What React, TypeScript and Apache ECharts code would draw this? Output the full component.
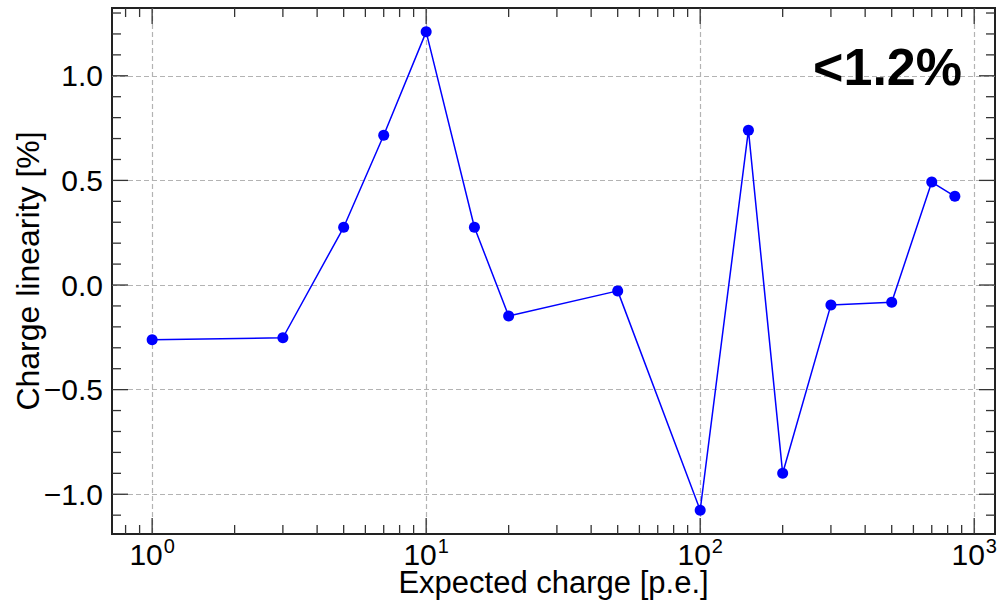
import React, { useEffect, useRef } from "react";
import * as echarts from "echarts";

const expectedCharge = [1, 3, 5, 7, 10, 15, 20, 50, 100, 150, 200, 300, 500, 700, 850];
const chargeLinearity = [-0.262, -0.252, 0.276, 0.716, 1.21, 0.276, -0.148, -0.028, -1.076, 0.74, -0.9, -0.095, -0.082, 0.492, 0.424];

const xMajorTicks = [1, 10, 100, 1000];
const xMinorTicks = [0.8, 0.9, 2, 3, 4, 5, 6, 7, 8, 9, 20, 30, 40, 50, 60, 70, 80, 90, 200, 300, 400, 500, 600, 700, 800, 900];
const yMajorTicks = [-1.0, -0.5, 0.0, 0.5, 1.0];
const yMinorTicks = [-1.1, -0.9, -0.8, -0.7, -0.6, -0.4, -0.3, -0.2, -0.1, 0.1, 0.2, 0.3, 0.4, 0.6, 0.7, 0.8, 0.9, 1.1, 1.2, 1.3];

const X_MIN = Math.pow(10, -0.1465);
const X_MAX = Math.pow(10, 3.0759);
const Y_MIN = -1.19;
const Y_MAX = 1.324;

const FONT = "'Liberation Sans', Arial, Helvetica, sans-serif";

export default function App() {
  const ref = useRef<HTMLDivElement>(null);
  useEffect(() => {
    if (!ref.current) return;
    const chart = echarts.init(ref.current, undefined, { renderer: "svg" });
    const tickData: number[][] = [];
    xMajorTicks.forEach((v) => tickData.push([v, 0, 0, 16]));
    xMinorTicks.forEach((v) => tickData.push([v, 0, 0, 9]));
    yMajorTicks.forEach((v) => tickData.push([1, v, 1, 16]));
    yMinorTicks.forEach((v) => tickData.push([1, v, 1, 9]));

    const option: any = {
      animation: false,
      backgroundColor: "#ffffff",
      textStyle: { fontFamily: FONT },
      grid: {
        left: 112,
        right: 6,
        top: 8,
        bottom: 69,
        outerBoundsMode: "none",
        containLabel: false,
        show: true,
        borderColor: "#222",
        borderWidth: 2,
        backgroundColor: "transparent",
      },
      xAxis: {
        type: "log",
        logBase: 10,
        min: X_MIN,
        max: X_MAX,
        name: "Expected charge [p.e.]",
        nameLocation: "middle",
        nameGap: 33,
        nameMoveOverlap: false,
        nameTextStyle: { fontSize: 31, color: "#000", fontFamily: FONT },
        axisLine: { show: false },
        axisTick: { show: false },
        minorTick: { show: false },
        splitLine: {
          show: true,
          showMinLine: false,
          showMaxLine: false,
          lineStyle: { color: "#b3b3b3", type: [5, 3], width: 1.2 },
        },
        axisLabel: {
          showMinLabel: false,
          showMaxLabel: false,
          margin: 8,
          formatter: (v: number) => {
            const l = Math.log10(v);
            const e = Math.round(l);
            if (Math.abs(l - e) > 1e-6) return "";
            return "{b|10}{s|" + e + "}";
          },
          rich: {
            b: { fontSize: 30, lineHeight: 24, color: "#000", fontFamily: FONT },
            s: { fontSize: 20, lineHeight: 8, color: "#000", fontFamily: FONT, padding: [0, 0, 16, 1] },
          },
        },
      },
      yAxis: {
        type: "value",
        min: Y_MIN,
        max: Y_MAX,
        name: "Charge linearity [%]",
        nameLocation: "middle",
        nameGap: 68,
        nameMoveOverlap: false,
        nameTextStyle: { fontSize: 32, color: "#000", fontFamily: FONT },
        axisLine: { show: false },
        axisTick: { show: false },
        splitLine: {
          show: true,
          showMinLine: false,
          showMaxLine: false,
          lineStyle: { color: "#b3b3b3", type: [5, 3], width: 1.2 },
        },
        axisLabel: {
          showMinLabel: false,
          showMaxLabel: false,
          margin: 9,
          fontSize: 30,
          color: "#000",
          fontFamily: FONT,
          formatter: (v: number) => {
            if (Math.abs(v * 2 - Math.round(v * 2)) > 1e-6) return "";
            return (v < -1e-9 ? "\u2212" : "") + Math.abs(v).toFixed(1);
          },
        },
      },
      graphic: [
        {
          type: "text",
          x: 962,
          y: 67,
          z: 100,
          style: {
            text: "<1.2%",
            fontSize: 52,
            fontWeight: "bold",
            fontFamily: FONT,
            fill: "#000",
            textAlign: "right",
            textVerticalAlign: "middle",
          },
        },
      ],
      series: [
        {
          type: "custom",
          silent: true,
          z: 5,
          data: tickData,
          encode: { x: 0, y: 1 },
          renderItem: (params: any, api: any) => {
            const cs = params.coordSys;
            const kind = api.value(2);
            const len = api.value(3);
            const st = { stroke: "#333", lineWidth: 1.3 };
            if (kind === 0) {
              const px = api.coord([api.value(0), 0])[0];
              return {
                type: "group",
                children: [
                  { type: "line", shape: { x1: px, y1: cs.y + cs.height, x2: px, y2: cs.y + cs.height - len }, style: st },
                  { type: "line", shape: { x1: px, y1: cs.y, x2: px, y2: cs.y + len }, style: st },
                ],
              };
            }
            const py = api.coord([1, api.value(1)])[1];
            return {
              type: "group",
              children: [
                { type: "line", shape: { x1: cs.x, y1: py, x2: cs.x + len, y2: py }, style: st },
                { type: "line", shape: { x1: cs.x + cs.width, y1: py, x2: cs.x + cs.width - len, y2: py }, style: st },
              ],
            };
          },
        },
        {
          type: "line",
          z: 10,
          data: expectedCharge.map((x, i) => [x, chargeLinearity[i]]),
          symbol: "circle",
          symbolSize: 11,
          showSymbol: true,
          lineStyle: { color: "#0000ff", width: 1.5 },
          itemStyle: { color: "#0000ff" },
        },
      ],
    };
    chart.setOption(option);
    return () => chart.dispose();
  }, []);
  return (
    <div
      ref={ref}
      style={{ position: "absolute", left: 0, top: 0, width: 1001, height: 603 }}
    />
  );
}
